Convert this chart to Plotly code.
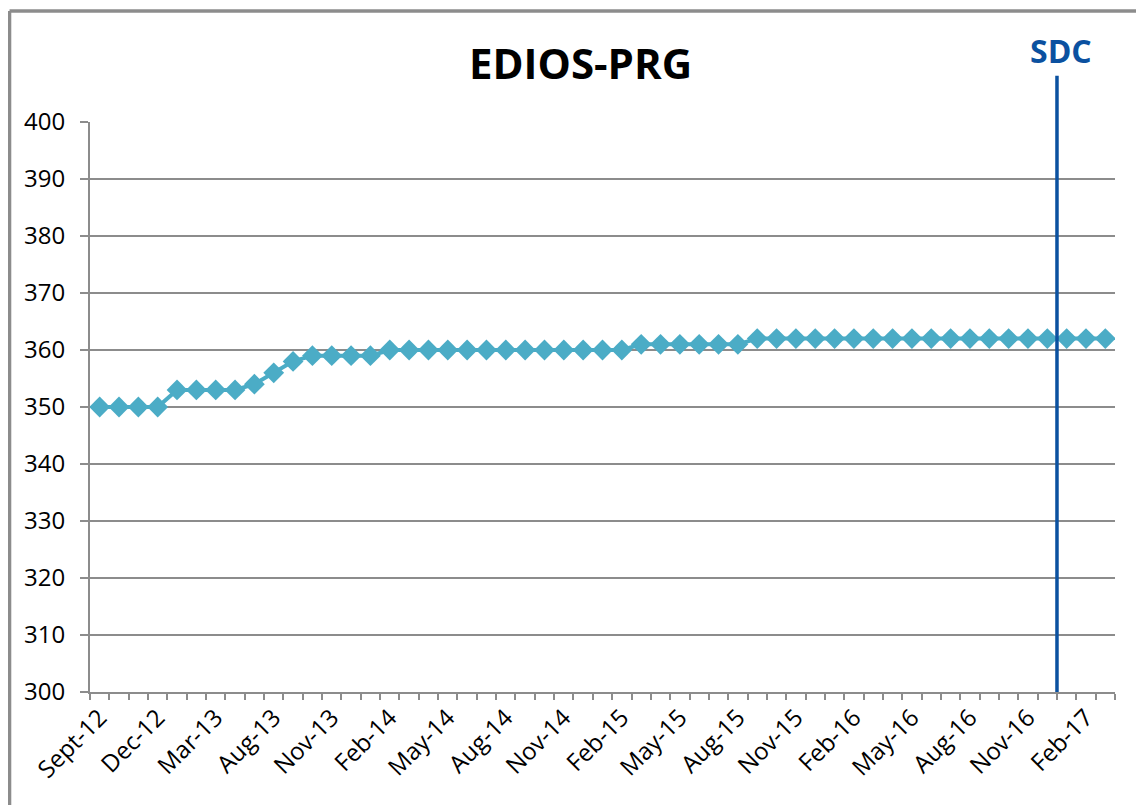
import plotly.graph_objects as go

# ---- data ----
tick_labels = ["Sept-12", "Dec-12", "Mar-13", "Aug-13", "Nov-13", "Feb-14", "May-14",
               "Aug-14", "Nov-14", "Feb-15", "May-15", "Aug-15", "Nov-15", "Feb-16",
               "May-16", "Aug-16", "Nov-16", "Feb-17"]
label_step = 3
values = [350, 350, 350, 350,
          353, 353, 353, 353,
          354, 356, 358,
          359, 359, 359, 359,
          360, 360, 360, 360, 360, 360, 360, 360, 360, 360, 360, 360, 360,
          361, 361, 361, 361, 361, 361,
          362, 362, 362, 362, 362, 362, 362, 362, 362, 362,
          362, 362, 362, 362, 362, 362, 362, 362, 362]
sdc_position = 49.5  # boundary between categories
title_text = "EDIOS-PRG"
sdc_text = "SDC"

x_idx = list(range(len(values)))
tick_vals = [i * label_step for i in range(len(tick_labels))]

FONT = "Open Sans"
SERIES = "#4bacc6"
GRID = "#8c8c8c"
SDC_COL = "#0b51a0"

fig = go.Figure()
fig.add_trace(go.Scatter(
    x=x_idx, y=values, mode="lines+markers",
    line=dict(color=SERIES, width=4),
    marker=dict(symbol="diamond", size=16, color=SERIES, line=dict(width=0)),
    showlegend=False, hoverinfo="y"))

# page body has an 8px default margin: size figure to fill the window
fig.update_layout(
    width=1136, height=797,
    margin=dict(l=82, r=29, t=114, b=113),
    paper_bgcolor="white", plot_bgcolor="white",
    font=dict(family=FONT, size=24, color="black"),
    xaxis=dict(
        range=[-0.5, len(values) - 0.5],
        tickvals=tick_vals, ticktext=tick_labels,
        tickangle=-45, ticks="", showgrid=False, zeroline=False,
        showline=True, linecolor=GRID, linewidth=2,
        tickfont=dict(family=FONT, size=24, color="black"),
        minor=dict(tickmode="linear", tick0=-0.5, dtick=1, ticks="outside",
                   ticklen=6, tickcolor=GRID, tickwidth=1.5, showgrid=False),
    ),
    yaxis=dict(
        range=[300, 400], dtick=10, tick0=300,
        showgrid=True, gridcolor=GRID, gridwidth=1.5,
        zeroline=False, showline=True, linecolor=GRID, linewidth=2,
        ticks="outside", ticklen=8, tickcolor=GRID, tickwidth=1.5,
        ticklabelstandoff=10,
        tickfont=dict(family=FONT, size=24, color="black"),
    ),
)

# SDC vertical line
fig.add_shape(type="line", xref="x", yref="paper",
              x0=sdc_position, x1=sdc_position, y0=0, y1=1.081,
              line=dict(color=SDC_COL, width=3.5), layer="above")
fig.add_annotation(text="<b>" + sdc_text + "</b>", xref="x", yref="paper",
                   x=sdc_position + 0.2, y=1.126, showarrow=False,
                   font=dict(family=FONT, size=32, color=SDC_COL),
                   xanchor="center", yanchor="middle")

# title
fig.add_annotation(text="<b>" + title_text + "</b>", xref="paper", yref="paper",
                   x=0.479, y=1.105, showarrow=False,
                   font=dict(family=FONT, size=42, color="black"),
                   xanchor="center", yanchor="middle")

# chart frame (left and top edges)
fig.add_shape(type="line", xref="paper", yref="paper",
              x0=-0.0785, x1=-0.0785, y0=-0.25, y1=1.1947,
              line=dict(color=GRID, width=3.5))
fig.add_shape(type="line", xref="paper", yref="paper",
              x0=-0.0785, x1=1.05, y0=1.1947, y1=1.1947,
              line=dict(color=GRID, width=3.5))

fig.write_html("out.html")
